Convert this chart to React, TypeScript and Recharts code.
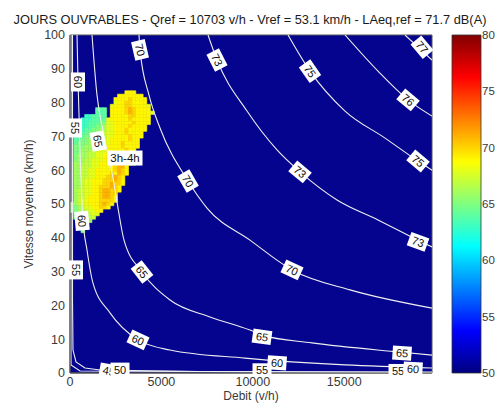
import {
  Bar,
  BarChart,
  ComposedChart,
  Line,
  ReferenceArea,
  ReferenceDot,
  XAxis,
  YAxis
} from "recharts";

const title = "JOURS OUVRABLES - Qref = 10703 v/h - Vref = 53.1 km/h - LAeq,ref = 71.7 dB(A)";
const xLabel = "Debit (v/h)";
const yLabel = "Vitesse moyenne (km/h)";
const xTicks = [0, 5000, 10000, 15000];
const yTicks = [0, 10, 20, 30, 40, 50, 60, 70, 80, 90, 100];
const barTicks = [50, 55, 60, 65, 70, 75, 80];
const xMax = 19800;

// iso-level lines [debit, vitesse]
const contour50: [number, number][] = [[55, 100], [55, 2.4], [547, 0.6], [19800, 0.1]];
const contour55: [number, number][] = [[137, 100], [137, 21.6], [164, 6.8], [328, 3.3], [820, 1.5], [1641, 0.9], [7111, 0.45], [19800, 0.3]];
const contour60: [number, number][] = [[383, 100], [438, 86.7], [547, 66], [711, 45.3], [930, 36.4], [1258, 26.6], [2188, 17.8], [3720, 9.8], [5470, 6.8], [9573, 4.4], [15043, 2.4], [19800, 1.5]];
const contour65: [number, number][] = [[1203, 100], [1477, 82.2], [1805, 71.6], [2352, 57.7], [2626, 48.8], [2954, 39.3], [3938, 29.9], [5470, 21.6], [7658, 16.6], [9846, 12.7], [10502, 11.2], [13237, 8.9], [18051, 6.2], [19800, 5.3]];
const contour70: [number, number][] = [[3774, 100], [3829, 95.6], [4321, 82.2], [4923, 72.5], [6455, 56.8], [7494, 48.8], [9846, 39.3], [12143, 30.5], [15316, 24.6], [19800, 19.2]];
const contour73: [number, number][] = [[7549, 100], [8041, 92.6], [9682, 77.5], [11323, 66], [12581, 59.5], [14605, 51.2], [16848, 45.3], [19036, 39.3], [19800, 37.3]];
const contour75: [number, number][] = [[11925, 100], [13128, 89.3], [15043, 77.5], [17231, 69.5], [19036, 62.7], [19800, 60]];
const contour76: [number, number][] = [[15043, 100], [16848, 89.3], [18489, 80.8], [19800, 76]];
const contour77: [number, number][] = [[18325, 100], [19800, 92.6]];

// contour tags: [text, debit, vitesse, angle]
const tags: [string, number, number, number][] = [
  ["55", 10502, 0.8, 0],
  ["55", 17942, 0.6, 0],
  ["45", 2133, 0.6, 10],
  ["50", 2735, 1.0, 0],
  ["55", 273, 72.5, 90],
  ["55", 328, 30.5, 90],
  ["60", 438, 86.1, 90],
  ["60", 656, 45.0, 85],
  ["60", 3720, 9.8, 25],
  ["60", 11323, 3.0, 4],
  ["60", 18762, 1.2, 3],
  ["65", 1532, 68.6, 80],
  ["65", 3938, 29.9, 52],
  ["65", 10502, 10.7, 8],
  ["65", 18160, 5.9, 4],
  ["70", 3829, 95.6, 77],
  ["70", 6455, 56.8, 60],
  ["70", 12143, 30.5, 25],
  ["73", 8041, 92.6, 63],
  ["73", 12581, 59.5, 40],
  ["73", 19036, 38.8, 20],
  ["75", 13128, 89.3, 55],
  ["75", 19036, 62.7, 40],
  ["76", 18489, 80.8, 40],
  ["77", 19254, 96.4, 50]
];

const periodLabel = { text: "3h-4h", x: 3009, y: 63.6 };

// measured cells: [vitesse, first column, levels] — digit d means 62 + d dB, "." is empty
const cellStep = 200;
const cellRows: [number, number, string][] = [
  [83, 15, "777"],
  [82, 13, "7777777"],
  [81, 12, "777787777"],
  [80, 12, "677887777"],
  [79, 11, "67778877776"],
  [78, 7, "222.77778987777"],
  [77, 7, "222.777789877776"],
  [76, 4, "112222.77777887777"],
  [75, 3, "1112222677777877777"],
  [74, 2, "01122233667777787777"],
  [73, 2, "0112233466777787777"],
  [72, 2, "1122334466777877777"],
  [71, 2, "122334456677787777"],
  [70, 1, "1223344556677778777"],
  [69, 1, "223344556677777877"],
  [68, 1, "233344556677787777"],
  [67, 1, "333445566777787777"],
  [66, 1, "33444556677777877"],
  [65, 1, "33445566677778777"],
  [64, 1, "34445566777777877"],
  [63, 1, "34455666777787777"],
  [62, 1, "44455667777787877"],
  [61, 1, "445556677778997"],
  [60, 1, "445566777778987"],
  [59, 1, "445566777787987"],
  [58, 1, "44556677788987"],
  [57, 1, "44566777888987"],
  [56, 1, "44566777889887"],
  [55, 1, "4456677888987"],
  [54, 1, "4556677899887"],
  [53, 1, "455667789988"],
  [52, 1, "455677789987"],
  [51, 1, "456677788887"],
  [50, 0, "345667778987"],
  [49, 0, "33456677887"],
  [48, 0, "334556677"],
  [47, 1, "3345566"],
  [46, 1, "334455"],
  [45, 2, "3344"],
  [44, 3, "33"],
  [42, 3, "3"]
];

const cells = cellRows.flatMap(([y, c0, codes]) =>
  codes
    .split("")
    .map((ch, i) => ({ ch, x: cellStep / 2 + cellStep * (c0 + i), y }))
    .filter((c) => c.ch !== ".")
    .map((c) => ({ x: c.x, y: c.y, db: 62 + Number(c.ch) }))
);

const contours = [contour50, contour55, contour60, contour65, contour70, contour73, contour75, contour76, contour77];
const font = "'Liberation Sans', Arial, Helvetica, sans-serif";
const tickStyle = { fontSize: 12.5, fill: "#3a3a3a", fontFamily: font };

function jet(v: number) {
  const t = (v - 50) / 30;
  const c = (d: number) => Math.round(255 * Math.max(0, Math.min(1, 1.5 - Math.abs(4 * t - d))));
  return `rgb(${c(3)},${c(2)},${c(1)})`;
}

function ContourTag({ cx, cy, text, angle }: { cx: number; cy: number; text: string; angle: number }) {
  return (
    <g transform={`translate(${cx},${cy}) rotate(${angle})`}>
      <rect x={-9.5} y={-7} width={19} height={14} fill="#ffffff" />
      <text x={0} y={0} dy="0.36em" textAnchor="middle" fontSize={11} fill="#111" fontFamily={font}>
        {text}
      </text>
    </g>
  );
}

export default function App() {
  return (
    <div style={{ position: "absolute", left: 0, top: 0, width: 495, height: 410, background: "#fff", fontFamily: font }}>
      <div style={{ position: "absolute", left: 0, top: 13, width: 500, textAlign: "center", fontSize: 12.8, lineHeight: "14px", color: "#1a1a1a", whiteSpace: "nowrap" }}>
        {title}
      </div>
      <div style={{ position: "absolute", left: 151, top: 389, width: 200, textAlign: "center", fontSize: 12, lineHeight: "14px", color: "#3a3a3a" }}>
        {xLabel}
      </div>
      <div
        style={{
          position: "absolute",
          left: 29 - 100,
          top: 204 - 7,
          width: 200,
          textAlign: "center",
          fontSize: 12,
          lineHeight: "14px",
          color: "#3a3a3a",
          transform: "rotate(-90deg)"
        }}
      >
        {yLabel}
      </div>

      <div style={{ position: "absolute", left: 0, top: 0 }}>
        <ComposedChart width={440} height={410} margin={{ top: 35, right: 8, bottom: 17, left: 30 }}>
          <XAxis
            type="number"
            dataKey="x"
            domain={[0, xMax]}
            ticks={xTicks}
            allowDataOverflow
            height={20}
            tickLine={false}
            tickSize={0}
            tickMargin={4}
            axisLine={{ stroke: "#555" }}
            tick={tickStyle}
          />
          <YAxis
            type="number"
            dataKey="y"
            domain={[0, 100]}
            ticks={yTicks}
            allowDataOverflow
            width={40}
            tickLine={false}
            tickSize={0}
            tickMargin={5}
            axisLine={{ stroke: "#555" }}
            tick={tickStyle}
          />
          <ReferenceArea x1={0} x2={xMax} y1={0} y2={100} fill="#04048f" fillOpacity={1} stroke="#555" />
          {cells.map((c) => (
            <ReferenceArea
              key={`${c.x}-${c.y}`}
              x1={c.x - cellStep / 2}
              x2={c.x + cellStep / 2}
              y1={c.y - 0.5}
              y2={c.y + 0.5}
              fill={jet(c.db)}
              fillOpacity={1}
              stroke={jet(c.db)}
              strokeWidth={0.6}
            />
          ))}
          {contours.map((pts, i) => (
            <Line
              key={i}
              data={pts.map(([x, y]) => ({ x, y }))}
              dataKey="y"
              type={i < 2 ? "linear" : "monotone"}
              stroke="#eeeeee"
              strokeWidth={1.1}
              dot={false}
              activeDot={false}
              isAnimationActive={false}
            />
          ))}
          {tags.map(([text, x, y, angle], i) => (
            <ReferenceDot
              key={`t${i}`}
              x={x}
              y={y}
              r={0}
              ifOverflow="visible"
              shape={(p: any) => <ContourTag cx={p.cx} cy={p.cy} text={text} angle={angle} />}
            />
          ))}
          <ReferenceDot
            x={periodLabel.x}
            y={periodLabel.y}
            r={0}
            ifOverflow="visible"
            shape={(p: any) => (
              <g>
                <rect x={p.cx - 17.5} y={p.cy - 7.5} width={35} height={15} fill="#fff" />
                <text x={p.cx} y={p.cy} dy="0.36em" textAnchor="middle" fontSize={11.5} fill="#111" fontFamily={font}>
                  {periodLabel.text}
                </text>
              </g>
            )}
          />
        </ComposedChart>
      </div>

      <div style={{ position: "absolute", left: 440, top: 0 }}>
        <BarChart width={55} height={410} data={[{ k: "cb", range: [50, 80] }]} margin={{ top: 35, right: 0, bottom: 37, left: 12 }} barCategoryGap={0}>
          <defs>
            <linearGradient id="jet" x1="0" y1="1" x2="0" y2="0">
              {[0, 0.125, 0.25, 0.375, 0.5, 0.625, 0.75, 0.875, 1].map((t) => (
                <stop key={t} offset={`${t * 100}%`} stopColor={jet(50 + 30 * t)} />
              ))}
            </linearGradient>
          </defs>
          <XAxis dataKey="k" hide />
          <YAxis
            orientation="right"
            type="number"
            domain={[50, 80]}
            ticks={barTicks}
            width={14}
            tickLine={false}
            tickSize={0}
            tickMargin={1}
            axisLine={false}
            tick={{ ...tickStyle, fontSize: 11.5, textAnchor: "start" }}
          />
          <Bar dataKey="range" fill="url(#jet)" stroke="#333" strokeWidth={0.8} isAnimationActive={false} />
        </BarChart>
      </div>
    </div>
  );
}
